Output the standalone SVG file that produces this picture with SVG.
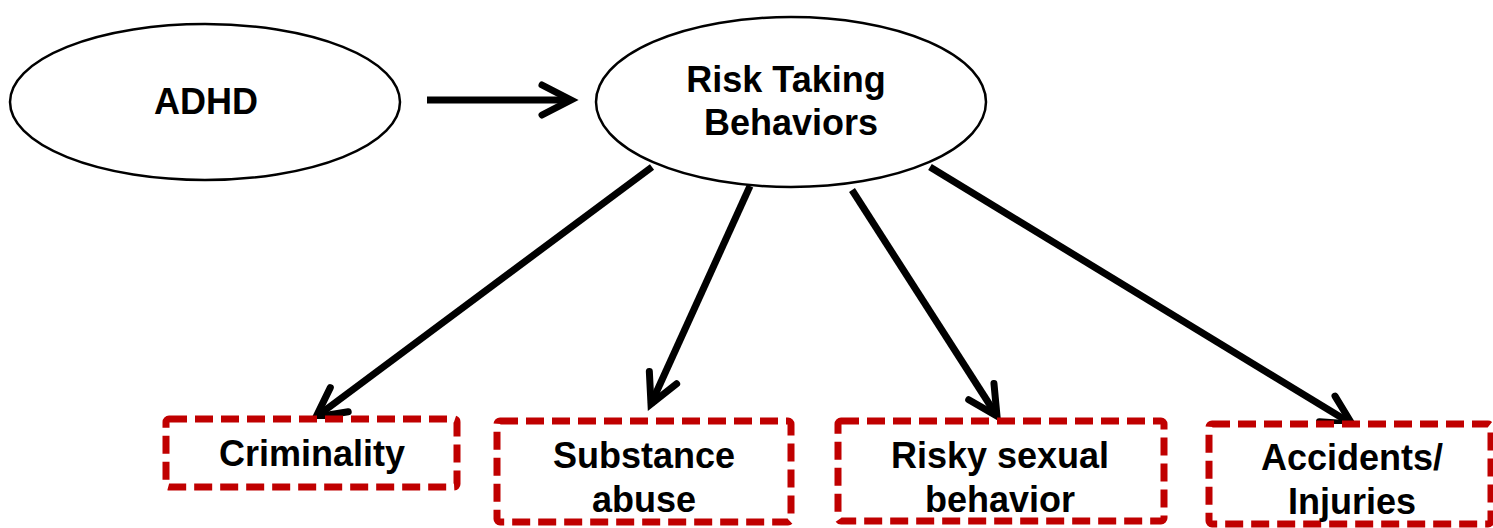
<svg xmlns="http://www.w3.org/2000/svg" width="1493" height="528" viewBox="0 0 1493 528">
<style>
.ell{fill:#fff;stroke:#000;stroke-width:2.5}
.box{fill:#fff;stroke:#C00000;stroke-width:7;stroke-dasharray:18 8}
.t{font-family:"Liberation Sans",Arial,sans-serif;font-weight:bold;font-size:36px;text-anchor:middle;fill:#000}
.c{stroke:#000;stroke-width:7;fill:none;marker-end:url(#ah)}
</style>
<defs>
<marker id="ah" markerUnits="userSpaceOnUse" viewBox="-40 -25 50 50" markerWidth="50" markerHeight="50" refX="0" refY="0" orient="auto">
<path d="M-29,-15 L0,0 L-29,15" fill="none" stroke="#000" stroke-width="7" stroke-linecap="round" stroke-linejoin="miter"/>
</marker>
</defs>
<g id="connectors">
<line class="c" x1="427" y1="100" x2="571" y2="100"/>
<line class="c" x1="652" y1="167" x2="316" y2="417"/>
<line class="c" x1="750" y1="186" x2="651" y2="404"/>
<line class="c" x1="852" y1="190" x2="997" y2="416"/>
<line class="c" x1="930" y1="167" x2="1352" y2="424"/>
</g>
<g id="adhd">
<ellipse class="ell" cx="205" cy="102" rx="195" ry="78"/>
<text class="t" x="206" y="114">ADHD</text>
</g>
<g id="risk">
<ellipse class="ell" cx="791" cy="102" rx="195" ry="85"/>
<text class="t" x="786" y="92">Risk Taking</text>
<text class="t" x="791" y="135">Behaviors</text>
</g>
<g id="criminality">
<rect class="box" x="166" y="419" width="291" height="68" rx="3"/>
<text class="t" x="312" y="466">Criminality</text>
</g>
<g id="substance">
<rect class="box" x="497" y="421" width="294" height="101" rx="3"/>
<text class="t" x="644" y="468">Substance</text>
<text class="t" x="644" y="512">abuse</text>
</g>
<g id="sexual">
<rect class="box" x="838" y="421" width="326" height="100" rx="3"/>
<text class="t" x="1000" y="468">Risky sexual</text>
<text class="t" x="1000" y="512">behavior</text>
</g>
<g id="accidents">
<rect class="box" x="1209" y="424" width="282" height="100" rx="3"/>
<text class="t" x="1352" y="470">Accidents/</text>
<text class="t" x="1352" y="514">Injuries</text>
</g>
</svg>
